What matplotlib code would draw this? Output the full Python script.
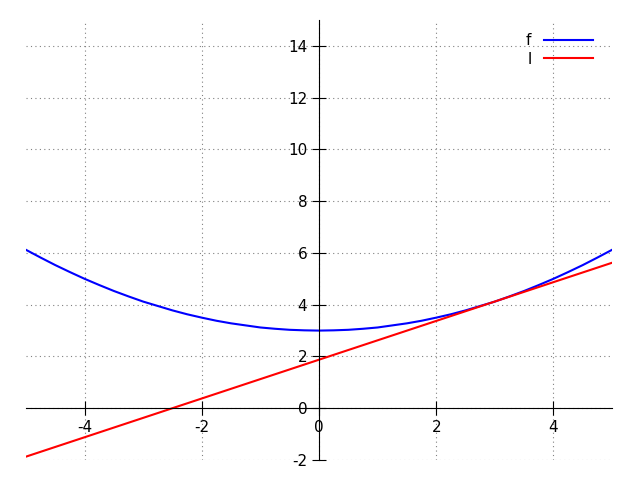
import matplotlib
matplotlib.use("Agg")
import matplotlib.pyplot as plt

# valores
x_f = [-5.0, -4.75, -4.5, -4.25, -4.0, -3.75, -3.5, -3.25, -3.0, -2.75,
       -2.5, -2.25, -2.0, -1.75, -1.5, -1.25, -1.0, -0.75, -0.5, -0.25,
       0.0, 0.25, 0.5, 0.75, 1.0, 1.25, 1.5, 1.75, 2.0, 2.25, 2.5, 2.75,
       3.0, 3.25, 3.5, 3.75, 4.0, 4.25, 4.5, 4.75, 5.0]
y_f = [6.12, 5.82, 5.53, 5.26, 5.0, 4.76, 4.53, 4.32, 4.12, 3.95,
       3.78, 3.63, 3.5, 3.38, 3.28, 3.2, 3.12, 3.07, 3.03, 3.01,
       3.0, 3.01, 3.03, 3.07, 3.12, 3.2, 3.28, 3.38, 3.5, 3.63, 3.78, 3.95,
       4.12, 4.32, 4.53, 4.76, 5.0, 5.26, 5.53, 5.82, 6.12]
x_l = [-5.0, 5.0]
y_l = [-1.87, 5.62]

x_ticks = [-4, -2, 0, 2, 4]
y_ticks = [-2, 0, 2, 4, 6, 8, 10, 12, 14]

fig = plt.figure(figsize=(6.4, 4.8), dpi=100)
ax = fig.add_axes([26 / 640, 20 / 480, 586 / 640, 440 / 480])

ax.plot(x_f, y_f, color='blue', linewidth=1.5, label='f')
ax.plot(x_l, y_l, color='red', linewidth=1.5, label='l')

ax.set_xlim(-5, 5)
ax.set_ylim(-2, 15)
ax.set_xticks(x_ticks)
ax.set_yticks(y_ticks)
ax.set_xticklabels([str(t) for t in x_ticks])
ax.set_yticklabels([str(t) for t in y_ticks])

# ejes centrados
ax.spines['left'].set_position(('data', 0))
ax.spines['bottom'].set_position(('data', 0))
ax.spines['right'].set_visible(False)
ax.spines['top'].set_visible(False)
ax.tick_params(direction='inout', length=10, labelsize=11)

ax.grid(color='gray', linestyle=(0, (1, 3)), linewidth=0.8)

ax.legend(loc='upper right', bbox_to_anchor=(0.985, 0.995), frameon=False,
          markerfirst=False, fontsize=11, handlelength=3.2, borderpad=0.2,
          labelspacing=0.25)

fig.savefig('out.png', dpi=100)
